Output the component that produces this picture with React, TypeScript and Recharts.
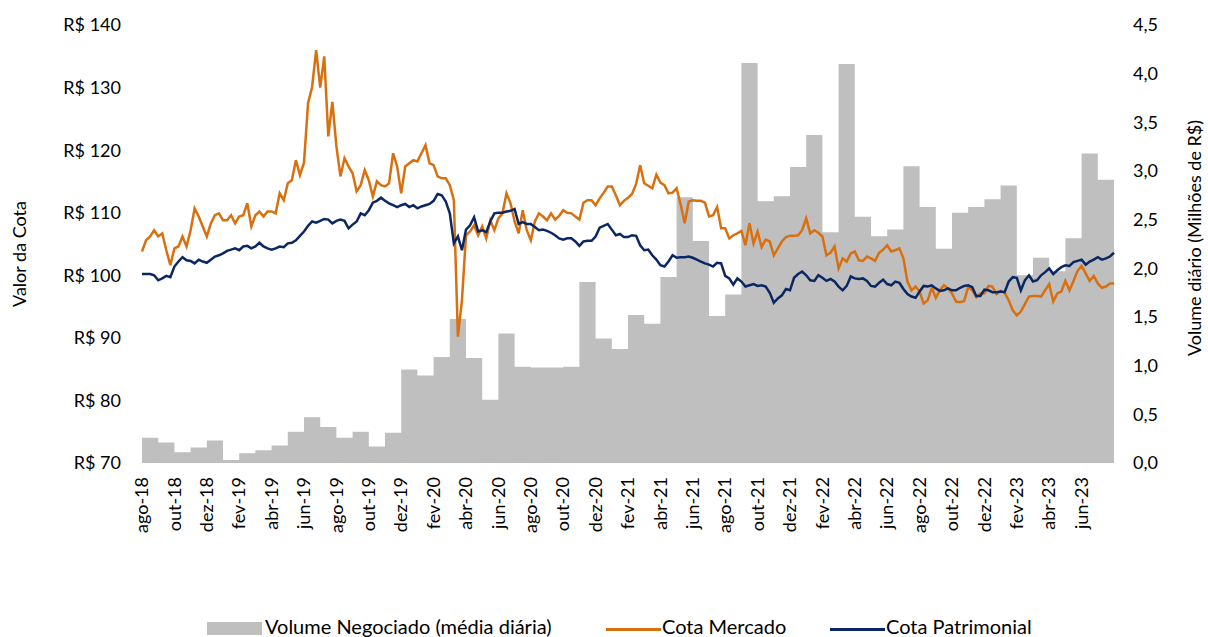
import React from "react";
import {
  Area,
  ComposedChart,
  Label,
  Legend,
  Line,
  XAxis,
  YAxis,
} from "recharts";

// rótulos do eixo X (a cada 2 meses, ago-18 .. jun-23)
const meses = [
  "ago-18", "out-18", "dez-18", "fev-19", "abr-19", "jun-19", "ago-19", "out-19",
  "dez-19", "fev-20", "abr-20", "jun-20", "ago-20", "out-20", "dez-20", "fev-21",
  "abr-21", "jun-21", "ago-21", "out-21", "dez-21", "fev-22", "abr-22", "jun-22",
  "ago-22", "out-22", "dez-22", "fev-23", "abr-23", "jun-23",
];

// volume negociado, média diária do mês (R$ milhões), ago-18 .. jul-23
const volumeMensal = [
  0.26, 0.21, 0.11, 0.16, 0.23, 0.03, 0.10, 0.13, 0.18, 0.32,
  0.47, 0.37, 0.26, 0.32, 0.17, 0.31, 0.96, 0.90, 1.09, 1.48,
  1.08, 0.65, 1.33, 0.99, 0.98, 0.98, 0.99, 1.86, 1.28, 1.17,
  1.52, 1.43, 1.91, 2.73, 2.28, 1.51, 1.73, 4.11, 2.69, 2.74,
  3.04, 3.37, 2.37, 4.10, 2.53, 2.33, 2.40, 3.05, 2.63, 2.20,
  2.57, 2.63, 2.71, 2.85, 1.93, 2.11, 1.97, 2.31, 3.18, 2.91,
];

// cota de mercado (R$), ~semanal
const cotaMercado = [
  103.8, 105.6, 106.2, 107.2, 106.2, 106.7, 104.0, 101.6, 104.3, 104.6,
  106.2, 104.6, 107.2, 110.7, 109.4, 107.8, 106.2, 108.3, 109.6, 109.9,
  108.8, 108.8, 109.6, 108.3, 109.4, 109.6, 111.5, 107.8, 109.6, 110.2,
  109.4, 110.2, 110.2, 109.9, 113.1, 112.0, 114.7, 115.2, 118.4, 116.0,
  118.0, 127.5, 130.1, 136.0, 130.0, 135.0, 122.2, 127.7, 120.6, 115.8,
  118.7, 117.4, 116.3, 113.4, 114.4, 116.8, 115.2, 112.6, 115.0, 114.4,
  114.2, 114.7, 119.5, 117.4, 113.1, 117.4, 117.9, 118.4, 118.2, 119.5,
  120.8, 117.9, 117.6, 115.8, 115.5, 115.5, 114.4, 112.0, 90.2, 96.0,
  106.4, 107.0, 108.0, 106.4, 107.8, 105.9, 108.8, 107.2, 109.1, 109.9,
  113.1, 111.5, 108.6, 106.7, 110.4, 107.2, 105.6, 108.6, 109.9, 109.4,
  108.8, 109.9, 108.9, 109.5, 110.4, 110.0, 109.9, 109.4, 108.9, 111.6,
  112.0, 112.0, 111.2, 112.3, 113.2, 114.2, 114.2, 112.8, 111.2, 111.9,
  112.4, 113.0, 114.6, 117.6, 114.7, 114.3, 113.9, 116.1, 114.8, 114.4,
  113.1, 113.2, 113.9, 111.3, 108.3, 111.8, 112.0, 111.9, 111.9, 111.6,
  109.4, 109.6, 110.9, 107.5, 107.5, 105.9, 106.4, 106.7, 107.1, 104.8,
  108.3, 105.1, 107.0, 104.5, 105.7, 105.4, 103.2, 104.3, 105.4, 106.1,
  106.3, 106.3, 106.4, 107.2, 109.1, 106.7, 107.2, 106.8, 106.2, 103.2,
  103.6, 104.6, 101.1, 102.7, 102.2, 103.5, 103.8, 102.4, 102.3, 103.0,
  102.7, 102.3, 103.6, 104.1, 104.8, 103.8, 104.0, 104.3, 102.7, 99.0,
  97.6, 98.2, 97.4, 95.5, 96.0, 98.0, 96.4, 97.6, 98.4, 97.9,
  97.1, 95.8, 95.7, 95.9, 98.1, 97.6, 96.5, 97.1, 97.1, 98.3,
  98.2, 97.0, 97.5, 97.2, 96.0, 94.4, 93.6, 94.2, 95.4, 96.6,
  96.7, 96.7, 96.6, 97.6, 98.6, 95.8, 97.1, 97.4, 99.1, 97.6,
  99.1, 100.7, 101.5, 100.3, 99.1, 99.9, 98.7, 98.0, 98.2, 98.7,
  98.7,
];

// cota patrimonial (R$), mesmas datas
const cotaPatrimonial = [
  100.2, 100.2, 100.2, 100.0, 99.2, 99.5, 99.9, 99.7, 101.4, 102.2,
  102.9, 102.4, 102.3, 101.9, 102.5, 102.2, 102.0, 102.5, 103.0, 103.2,
  103.5, 103.9, 104.1, 104.3, 104.0, 104.6, 104.7, 104.3, 104.6, 105.2,
  104.6, 104.3, 104.1, 104.3, 104.6, 104.5, 105.1, 105.2, 105.6, 106.3,
  107.0, 107.9, 108.6, 108.4, 108.7, 109.0, 108.9, 108.3, 108.7, 108.9,
  108.7, 107.5, 108.1, 108.6, 109.9, 109.6, 110.4, 111.6, 111.9, 112.4,
  111.9, 111.5, 111.2, 110.9, 111.2, 111.4, 110.9, 111.2, 110.7, 111.0,
  111.2, 111.4, 111.9, 113.0, 112.8, 111.8, 109.9, 105.1, 106.2, 104.0,
  107.3, 108.0, 109.3, 107.0, 107.2, 106.9, 108.6, 109.9, 110.0, 110.0,
  110.2, 110.3, 110.6, 108.2, 108.5, 108.2, 108.2, 107.7, 107.2, 107.3,
  107.1, 106.8, 106.4, 105.9, 105.7, 105.9, 105.9, 105.4, 104.7, 105.4,
  105.5, 105.5, 106.2, 107.6, 107.9, 108.2, 107.3, 106.4, 106.6, 106.1,
  106.1, 106.4, 106.3, 104.8, 104.0, 104.1, 103.2, 102.5, 101.6, 101.4,
  102.2, 103.2, 102.8, 102.9, 102.9, 103.0, 102.8, 102.5, 102.2, 101.9,
  101.7, 101.4, 102.0, 101.9, 99.9, 99.5, 98.5, 99.5, 99.0, 98.2,
  98.4, 98.6, 98.3, 98.4, 98.2, 97.2, 95.6, 96.3, 96.8, 97.8,
  97.6, 99.6, 100.2, 100.6, 100.0, 99.2, 99.1, 100.0, 99.6, 99.1,
  99.4, 99.0, 98.2, 97.6, 98.3, 99.8, 99.5, 99.4, 99.5, 99.1,
  98.3, 98.2, 98.8, 99.3, 98.6, 98.4, 99.0, 98.8, 97.8, 97.0,
  96.6, 96.4, 97.4, 98.3, 98.2, 98.4, 97.9, 97.5, 97.6, 97.9,
  97.6, 97.6, 98.0, 98.3, 98.4, 98.1, 96.7, 96.7, 97.7, 97.6,
  97.3, 97.3, 97.4, 97.3, 99.0, 99.7, 99.6, 97.6, 99.2, 100.0,
  99.0, 99.2, 100.0, 100.5, 101.1, 100.2, 100.8, 101.3, 101.6, 101.5,
  102.1, 102.3, 102.5, 101.7, 102.2, 102.5, 102.9, 102.5, 102.7, 103.0,
  103.6,
];

const cotaTicks = [70, 80, 90, 100, 110, 120, 130, 140];
const volumeTicks = [0, 0.5, 1, 1.5, 2, 2.5, 3, 3.5, 4, 4.5];

const LARANJA = "#d9700f";
const AZUL = "#0b2763";
const CINZA = "#bfbfbf";
const FONTE = "Lato, sans-serif";

// t em meses desde ago-18, 4 pontos por mês
const data = cotaMercado.map((v, i) => ({
  t: i / 4,
  mercado: v,
  patrimonial: cotaPatrimonial[i],
  volume: volumeMensal[Math.min(Math.floor(i / 4), volumeMensal.length - 1)],
}));

const mesTicks = meses.map((_, i) => i * 2);

function MesTick(props: any) {
  const { x, y, payload } = props;
  return (
    <text
      x={x}
      y={y}
      transform={`rotate(-90, ${x}, ${y})`}
      textAnchor="end"
      dy="0.35em"
      fontSize={18}
      fontFamily={FONTE}
      fill="#000"
    >
      {meses[payload.value / 2]}
    </text>
  );
}

function Legenda() {
  const txt: React.CSSProperties = {
    position: "absolute",
    top: 9,
    fontSize: 20,
    lineHeight: "20px",
    fontFamily: FONTE,
    color: "#000",
    whiteSpace: "nowrap",
  };
  return (
    <div style={{ position: "relative", width: 1208, height: 30 }}>
      <div style={{ position: "absolute", left: 207, top: 15, width: 55, height: 13, background: CINZA }} />
      <span style={{ ...txt, left: 265 }}>Volume Negociado (média diária)</span>
      <div style={{ position: "absolute", left: 606, top: 21, width: 55, height: 3, background: LARANJA }} />
      <span style={{ ...txt, left: 662 }}>Cota Mercado</span>
      <div style={{ position: "absolute", left: 830, top: 21, width: 55, height: 3, background: AZUL }} />
      <span style={{ ...txt, left: 886 }}>Cota Patrimonial</span>
    </div>
  );
}

export default function App() {
  return (
    <div style={{ position: "absolute", left: 0, top: 0, width: 1208, height: 637 }}>
      <ComposedChart
        width={1208}
        height={637}
        data={data}
        margin={{ top: 25, right: 0, bottom: 0, left: 0 }}
        style={{ fontFamily: FONTE }}
      >
        <XAxis
          dataKey="t"
          type="number"
          domain={[0, 60]}
          ticks={mesTicks}
          interval={0}
          height={144}
          axisLine={false}
          tickLine={false}
          tickSize={0}
          tickMargin={14}
          tick={<MesTick />}
        />
        <YAxis
          yAxisId="left"
          domain={[70, 140]}
          ticks={cotaTicks}
          width={142}
          axisLine={false}
          tickLine={false}
          tickSize={0}
          tickMargin={21}
          tickFormatter={(v: number) => `R$ ${v}`}
          tick={{ fontSize: 18, fill: "#000", fontFamily: FONTE }}
        >
          <Label
            content={() => (
              <text
                x={20}
                y={254}
                transform="rotate(-90, 20, 254)"
                textAnchor="middle"
                dy="0.35em"
                fontSize={18}
                fontFamily={FONTE}
                fill="#000"
              >
                Valor da Cota
              </text>
            )}
          />
        </YAxis>
        <YAxis
          yAxisId="right"
          orientation="right"
          domain={[0, 4.5]}
          ticks={volumeTicks}
          width={94}
          axisLine={false}
          tickLine={false}
          tickSize={0}
          tickMargin={19}
          tickFormatter={(v: number) => v.toFixed(1).replace(".", ",")}
          tick={{ fontSize: 18, fill: "#000", fontFamily: FONTE }}
        >
          <Label
            content={() => (
              <text
                x={1195}
                y={238}
                transform="rotate(-90, 1195, 238)"
                textAnchor="middle"
                dy="0.35em"
                fontSize={18}
                fontFamily={FONTE}
                fill="#000"
              >
                Volume diário (Milhões de R$)
              </text>
            )}
          />
        </YAxis>
        <Legend verticalAlign="bottom" content={<Legenda />} wrapperStyle={{ bottom: 0, left: 0, height: 30 }} />
        <Area
          yAxisId="right"
          dataKey="volume"
          name="Volume Negociado (média diária)"
          type="stepAfter"
          fill={CINZA}
          fillOpacity={1}
          stroke="none"
          isAnimationActive={false}
        />
        <Line
          yAxisId="left"
          dataKey="mercado"
          name="Cota Mercado"
          type="linear"
          stroke={LARANJA}
          strokeWidth={2.5}
          dot={false}
          activeDot={false}
          isAnimationActive={false}
        />
        <Line
          yAxisId="left"
          dataKey="patrimonial"
          name="Cota Patrimonial"
          type="linear"
          stroke={AZUL}
          strokeWidth={2.5}
          dot={false}
          activeDot={false}
          isAnimationActive={false}
        />
      </ComposedChart>
    </div>
  );
}
